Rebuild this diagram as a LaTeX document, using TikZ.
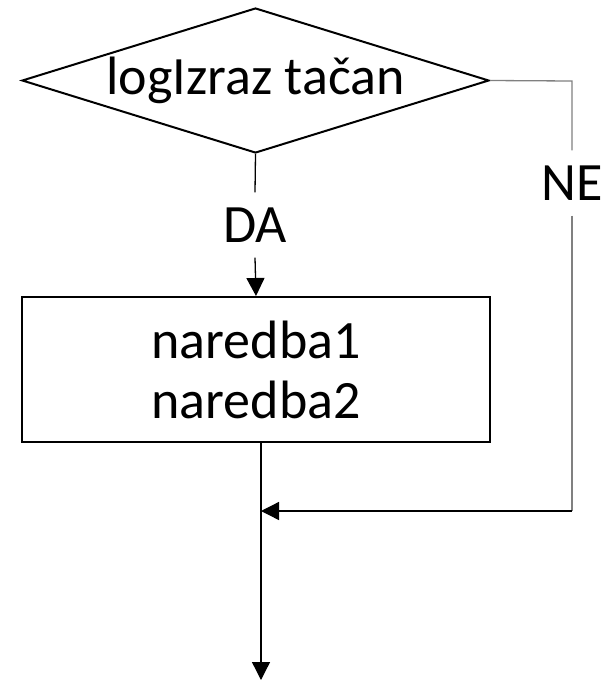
\documentclass[tikz,border=0pt]{standalone}
\usepackage{fontspec}
\setmainfont{Carlito}
\usepackage{tikz}
\usetikzlibrary{arrows.meta,positioning,calc,shapes.geometric}

\begin{document}
\begin{tikzpicture}[x=1pt, y=-1pt,
    shapebox/.style={draw, line width=2pt, inner sep=0pt},
    flowline/.style={line width=1.3pt},
    flowarrow/.style={flowline, -{Triangle[width=18pt,length=18pt]}},
    branchlabel/.style={inner sep=15pt}]
    \fontsize{54pt}{60pt}\selectfont
    \useasboundingbox (0,0) rectangle (610,681);

    % Condition
    \node[shapebox, diamond, aspect=3.2, minimum width=467pt, minimum height=145pt]
        (cond) at (255.5,80.5) {logIzraz tačan};

    % Body
    \node[shapebox, rectangle, minimum width=468pt, minimum height=145pt, align=center]
        (body) at (256,369.5) {naredba1\\naredba2};

    % Labels
    \node[branchlabel] (da) at (255,225) {DA};
    \node[branchlabel] (ne) at (572,183) {NE};

    % Corners
    \coordinate (neTop) at (572,81);
    \coordinate (neBot) at (572,511);
    \coordinate (join) at (261,511);
    \coordinate (out) at (261,442);
    \coordinate (exit) at (261,680);

    % DA branch
    \draw[flowline] (cond.south) -- (da.north);
    \draw[flowarrow] (da.south) -- (body.north);

    % NE branch
    \draw[flowline, black!50] (cond.east) -- (neTop) -- (ne.north);
    \draw[flowline, black!50] (ne.south) -- (neBot);
    \draw[flowarrow] (neBot) -- (join);

    % Exit
    \draw[flowarrow] (out) -- (exit);
\end{tikzpicture}
\end{document}
